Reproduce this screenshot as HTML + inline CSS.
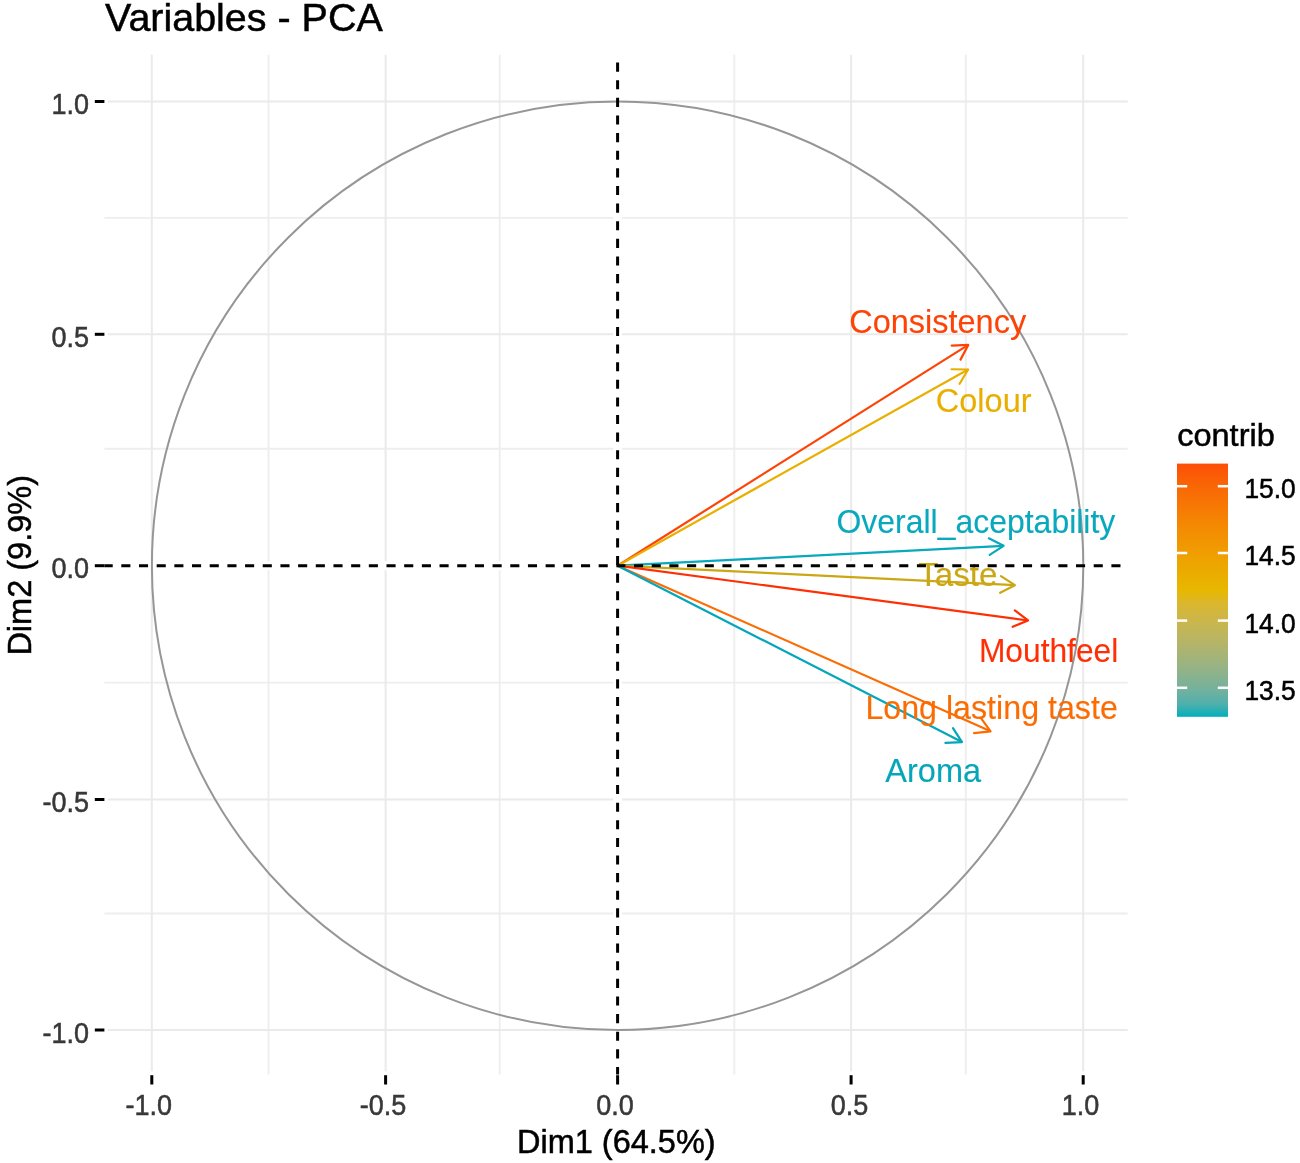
<!DOCTYPE html>
<html><head><meta charset="utf-8"><title>Variables - PCA</title>
<style>
html,body{margin:0;padding:0;background:#fff;}
body{width:1300px;height:1163px;overflow:hidden;}
svg{display:block;filter:blur(0.6px);}
svg text{font-family:"Liberation Sans",sans-serif;stroke-width:0.5px;}
svg text.lab{stroke-width:0.12px;}
</style></head><body>
<svg width="1300" height="1163" viewBox="0 0 1300 1163">
<defs>
<linearGradient id="cb" x1="0" y1="0" x2="0" y2="1"><stop offset="0.000" stop-color="#FC4E07"/><stop offset="0.050" stop-color="#FB5C06"/><stop offset="0.100" stop-color="#F96905"/><stop offset="0.150" stop-color="#F87404"/><stop offset="0.200" stop-color="#F67F03"/><stop offset="0.250" stop-color="#F48A02"/><stop offset="0.300" stop-color="#F29301"/><stop offset="0.350" stop-color="#F09D01"/><stop offset="0.400" stop-color="#EDA600"/><stop offset="0.450" stop-color="#EAAF00"/><stop offset="0.500" stop-color="#E7B800"/><stop offset="0.550" stop-color="#DCB72C"/><stop offset="0.600" stop-color="#D0B643"/><stop offset="0.650" stop-color="#C4B655"/><stop offset="0.700" stop-color="#B7B565"/><stop offset="0.750" stop-color="#A8B474"/><stop offset="0.800" stop-color="#98B383"/><stop offset="0.850" stop-color="#85B291"/><stop offset="0.900" stop-color="#6FB19F"/><stop offset="0.950" stop-color="#4FB0AD"/><stop offset="1.000" stop-color="#00AFBB"/></linearGradient>
<clipPath id="pc"><rect x="104.4" y="54.7" width="1023.3000000000001" height="1019.8"/></clipPath>
</defs>
<rect width="1300" height="1163" fill="#FFFFFF"/>
<g stroke="#EEEEEE" stroke-width="1.9">
<line x1="268.50" y1="54.7" x2="268.50" y2="1074.5"/>
<line x1="104.4" y1="913.50" x2="1127.7" y2="913.50"/>
<line x1="499.70" y1="54.7" x2="499.70" y2="1074.5"/>
<line x1="104.4" y1="682.60" x2="1127.7" y2="682.60"/>
<line x1="734.30" y1="54.7" x2="734.30" y2="1074.5"/>
<line x1="104.4" y1="448.80" x2="1127.7" y2="448.80"/>
<line x1="965.80" y1="54.7" x2="965.80" y2="1074.5"/>
<line x1="104.4" y1="217.90" x2="1127.7" y2="217.90"/>
</g>
<g stroke="#EAEAEA" stroke-width="2.0">
<line x1="151.80" y1="54.7" x2="151.80" y2="1071.3"/>
<line x1="107.80000000000001" y1="1030.00" x2="1127.7" y2="1030.00"/>
<line x1="385.60" y1="54.7" x2="385.60" y2="1071.3"/>
<line x1="107.80000000000001" y1="799.50" x2="1127.7" y2="799.50"/>
<line x1="617.60" y1="54.7" x2="617.60" y2="1071.3"/>
<line x1="107.80000000000001" y1="565.70" x2="1127.7" y2="565.70"/>
<line x1="851.10" y1="54.7" x2="851.10" y2="1071.3"/>
<line x1="107.80000000000001" y1="334.30" x2="1127.7" y2="334.30"/>
<line x1="1083.20" y1="54.7" x2="1083.20" y2="1071.3"/>
<line x1="107.80000000000001" y1="101.50" x2="1127.7" y2="101.50"/>
</g>
<line x1="104.4" y1="565.7" x2="1127.7" y2="565.7" stroke="#fff" stroke-width="9"/>
<line x1="617.6" y1="54.7" x2="617.6" y2="1074.5" stroke="#fff" stroke-width="9"/>
<ellipse cx="617.6" cy="565.7" rx="465.7" ry="464.25" fill="none" stroke="#969696" stroke-width="2.0"/>
<g stroke="#FD4305" stroke-width="2.2" fill="none" stroke-linecap="round" stroke-linejoin="round">
<line x1="617.6" y1="565.7" x2="968.25" y2="344.93" stroke-linecap="butt"/>
<polyline points="960.51,359.62 968.25,344.93 951.67,345.57"/>
</g>
<g stroke="#E9AF00" stroke-width="2.2" fill="none" stroke-linecap="round" stroke-linejoin="round">
<line x1="617.6" y1="565.7" x2="968.13" y2="369.49" stroke-linecap="butt"/>
<polyline points="959.64,383.75 968.13,369.49 951.53,369.27"/>
</g>
<g stroke="#08A8BD" stroke-width="2.2" fill="none" stroke-linecap="round" stroke-linejoin="round">
<line x1="617.6" y1="565.7" x2="1003.60" y2="545.85" stroke-linecap="butt"/>
<polyline points="989.67,554.88 1003.60,545.85 988.82,538.30"/>
</g>
<g stroke="#CBA714" stroke-width="2.2" fill="none" stroke-linecap="round" stroke-linejoin="round">
<line x1="617.6" y1="565.7" x2="1014.90" y2="585.15" stroke-linecap="butt"/>
<polyline points="1000.14,592.74 1014.90,585.15 1000.95,576.16"/>
</g>
<g stroke="#FF2F05" stroke-width="2.2" fill="none" stroke-linecap="round" stroke-linejoin="round">
<line x1="617.6" y1="565.7" x2="1028.01" y2="620.47" stroke-linecap="butt"/>
<polyline points="1012.66,626.79 1028.01,620.47 1014.86,610.34"/>
</g>
<g stroke="#FB6C03" stroke-width="2.2" fill="none" stroke-linecap="round" stroke-linejoin="round">
<line x1="617.6" y1="565.7" x2="990.59" y2="731.29" stroke-linecap="butt"/>
<polyline points="974.08,733.05 990.59,731.29 980.81,717.87"/>
</g>
<g stroke="#06A6BA" stroke-width="2.2" fill="none" stroke-linecap="round" stroke-linejoin="round">
<line x1="617.6" y1="565.7" x2="962.01" y2="742.04" stroke-linecap="butt"/>
<polyline points="945.43,742.88 962.01,742.04 953.00,728.10"/>
</g>
<text class="lab" id="lab_Consistency" x="937.7" y="333.2" text-anchor="middle" font-size="32.5" fill="#FD4305" stroke="#FD4305">Consistency</text>
<text class="lab" id="lab_Colour" x="983.7" y="412.0" text-anchor="middle" font-size="32.5" fill="#E9AF00" stroke="#E9AF00">Colour</text>
<text class="lab" id="lab_Overall_aceptability" x="975.9" y="532.8" text-anchor="middle" font-size="32.5" fill="#08A8BD" stroke="#08A8BD" textLength="278.8" lengthAdjust="spacingAndGlyphs">Overall_aceptability</text>
<text class="lab" id="lab_Taste" x="957.8" y="586.2" text-anchor="middle" font-size="32.5" fill="#CBA714" stroke="#CBA714" textLength="79.3" lengthAdjust="spacingAndGlyphs">Taste</text>
<text class="lab" id="lab_Mouthfeel" x="1048.6" y="661.6" text-anchor="middle" font-size="32.5" fill="#FF2F05" stroke="#FF2F05" textLength="139.4" lengthAdjust="spacingAndGlyphs">Mouthfeel</text>
<text class="lab" id="lab_Long_lasting_taste" x="991.6" y="719.0" text-anchor="middle" font-size="32.5" fill="#FB6C03" stroke="#FB6C03" textLength="252.4" lengthAdjust="spacingAndGlyphs">Long lasting taste</text>
<text class="lab" id="lab_Aroma" x="933.2" y="781.9" text-anchor="middle" font-size="32.5" fill="#06A6BA" stroke="#06A6BA">Aroma</text>
<g clip-path="url(#pc)" stroke="#000" stroke-width="3.0" fill="none">
<line x1="85.94" y1="565.7" x2="1147.7" y2="565.7" stroke-dasharray="9.1 8.58"/>
<line x1="617.6" y1="27.36" x2="617.6" y2="1094.5" stroke-dasharray="9.1 8.52"/>
</g>
<line x1="151.80" y1="1075.2" x2="151.80" y2="1084.5" stroke="#000" stroke-width="3.0"/>
<line x1="94.80000000000001" y1="1030.00" x2="104.4" y2="1030.00" stroke="#000" stroke-width="3.0"/>
<line x1="385.60" y1="1075.2" x2="385.60" y2="1084.5" stroke="#000" stroke-width="3.0"/>
<line x1="94.80000000000001" y1="799.50" x2="104.4" y2="799.50" stroke="#000" stroke-width="3.0"/>
<line x1="617.60" y1="1075.2" x2="617.60" y2="1084.5" stroke="#000" stroke-width="3.0"/>
<line x1="94.80000000000001" y1="565.70" x2="104.4" y2="565.70" stroke="#000" stroke-width="3.0"/>
<line x1="851.10" y1="1075.2" x2="851.10" y2="1084.5" stroke="#000" stroke-width="3.0"/>
<line x1="94.80000000000001" y1="334.30" x2="104.4" y2="334.30" stroke="#000" stroke-width="3.0"/>
<line x1="1083.20" y1="1075.2" x2="1083.20" y2="1084.5" stroke="#000" stroke-width="3.0"/>
<line x1="94.80000000000001" y1="101.50" x2="104.4" y2="101.50" stroke="#000" stroke-width="3.0"/>
<text class="xt" transform="translate(148.65,1115.3) scale(1,1.06)" text-anchor="middle" font-size="27.0" fill="#383838" stroke="#383838">-1.0</text>
<text class="yt" transform="translate(89.0,1042.60) scale(1,1.06)" text-anchor="end" font-size="27.0" fill="#383838" stroke="#383838">-1.0</text>
<text class="xt" transform="translate(383.05,1115.3) scale(1,1.06)" text-anchor="middle" font-size="27.0" fill="#383838" stroke="#383838">-0.5</text>
<text class="yt" transform="translate(89.0,812.10) scale(1,1.06)" text-anchor="end" font-size="27.0" fill="#383838" stroke="#383838">-0.5</text>
<text class="xt" transform="translate(615.10,1115.3) scale(1,1.06)" text-anchor="middle" font-size="27.0" fill="#383838" stroke="#383838">0.0</text>
<text class="yt" transform="translate(89.0,578.30) scale(1,1.06)" text-anchor="end" font-size="27.0" fill="#383838" stroke="#383838">0.0</text>
<text class="xt" transform="translate(849.55,1115.3) scale(1,1.06)" text-anchor="middle" font-size="27.0" fill="#383838" stroke="#383838">0.5</text>
<text class="yt" transform="translate(89.0,346.90) scale(1,1.06)" text-anchor="end" font-size="27.0" fill="#383838" stroke="#383838">0.5</text>
<text class="xt" transform="translate(1080.40,1115.3) scale(1,1.06)" text-anchor="middle" font-size="27.0" fill="#383838" stroke="#383838">1.0</text>
<text class="yt" transform="translate(89.0,114.10) scale(1,1.06)" text-anchor="end" font-size="27.0" fill="#383838" stroke="#383838">1.0</text>
<text id="title" x="105.0" y="31" font-size="39" fill="#000" stroke="#000" textLength="277.7" lengthAdjust="spacingAndGlyphs">Variables - PCA</text>
<text id="xlab" x="616.3" y="1152.5" text-anchor="middle" font-size="32.5" fill="#000" stroke="#000">Dim1 (64.5%)</text>
<text id="ylab" transform="translate(31.0,565.3) rotate(-90)" text-anchor="middle" font-size="32.5" fill="#000" stroke="#000">Dim2 (9.9%)</text>
<text id="ltitle" x="1177.2" y="445.5" font-size="31.8" fill="#000" stroke="#000" textLength="97.6" lengthAdjust="spacingAndGlyphs">contrib</text>
<rect x="1177.0" y="463.6" width="51.0" height="253.19999999999993" fill="url(#cb)"/>
<line x1="1177.0" y1="486.2" x2="1187.20" y2="486.2" stroke="#fff" stroke-width="2.5"/>
<line x1="1217.80" y1="486.2" x2="1228.0" y2="486.2" stroke="#fff" stroke-width="2.5"/>
<text class="lt" transform="translate(1244.4,498.40) scale(1,1.06)" font-size="26.3" fill="#000" stroke="#000">15.0</text>
<line x1="1177.0" y1="553.0" x2="1187.20" y2="553.0" stroke="#fff" stroke-width="2.5"/>
<line x1="1217.80" y1="553.0" x2="1228.0" y2="553.0" stroke="#fff" stroke-width="2.5"/>
<text class="lt" transform="translate(1244.4,565.20) scale(1,1.06)" font-size="26.3" fill="#000" stroke="#000">14.5</text>
<line x1="1177.0" y1="620.6" x2="1187.20" y2="620.6" stroke="#fff" stroke-width="2.5"/>
<line x1="1217.80" y1="620.6" x2="1228.0" y2="620.6" stroke="#fff" stroke-width="2.5"/>
<text class="lt" transform="translate(1244.4,632.80) scale(1,1.06)" font-size="26.3" fill="#000" stroke="#000">14.0</text>
<line x1="1177.0" y1="687.8" x2="1187.20" y2="687.8" stroke="#fff" stroke-width="2.5"/>
<line x1="1217.80" y1="687.8" x2="1228.0" y2="687.8" stroke="#fff" stroke-width="2.5"/>
<text class="lt" transform="translate(1244.4,700.00) scale(1,1.06)" font-size="26.3" fill="#000" stroke="#000">13.5</text>
</svg>
</body></html>
